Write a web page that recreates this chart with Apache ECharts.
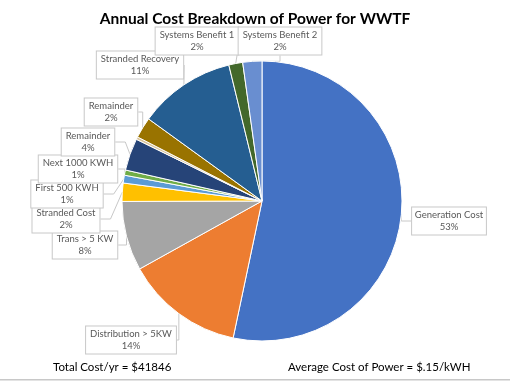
<!DOCTYPE html>
<html>
<head>
<meta charset="utf-8">
<script src="https://cdn.jsdelivr.net/npm/echarts@6/dist/echarts.min.js"></script>
<style>
html,body{margin:0;padding:0;background:#fff;}
#chart{width:510px;height:382px;}
</style>
</head>
<body>
<div id="chart"></div>
<script>
const categories = ['Generation Cost','Distribution > 5KW','Trans > 5 KW','Stranded Cost','First 500 KWH','Next 1000 KWH','Remainder','','Remainder','Stranded Recovery','Systems Benefit 1','Systems Benefit 2'];
const values = [53.2,13.6,8.0,2.1,0.9,0.6,3.7,0.3,2.4,11.2,1.6,2.2];
const colors = ['#4472C4','#ED7D31','#A5A5A5','#FFC000','#5B9BD5','#70AD47','#264478','#D9C39A','#997300','#255E91','#43682B','#698ED0'];
const titleText = 'Annual Cost Breakdown of Power for WWTF';
const footLeft = 'Total Cost/yr = $41846';
const footRight = 'Average Cost of Power = $.15/kWH';
// callout centres (label placement)
const labelPos = [[449,221],[131,340],[85,245],[66,219],[67,194],[78,169],[88,142],null,[111,112],[140,65],[197,41],[280,41]];

const chart = echarts.init(document.getElementById('chart'));
const data = categories.map((n,i)=>({
  name:n, value:values[i], itemStyle:{color:colors[i]},
  label:{show: labelPos[i]!==null}, labelLine:{show: labelPos[i]!==null}
}));
chart.setOption({
  backgroundColor:'#fff',
  animation:false,
  title:{text:titleText,left:'center',top:6,textStyle:{fontFamily:'Lato',fontWeight:'bold',fontSize:15.5,color:'#000'}},
  graphic:[
    {type:'text',left:53,top:361,style:{text:footLeft,font:'11.5px Lato',fill:'#000'}},
    {type:'text',left:288,top:361,style:{text:footRight,font:'11.5px Lato',fill:'#000'}},
    {type:'rect',left:0,top:379,shape:{width:510,height:1.5},style:{fill:'#C8C8C8'}}
  ],
  series:[{
    type:'pie',
    center:[262,201],
    radius:140,
    startAngle:90,
    clockwise:true,
    data:data,
    itemStyle:{borderColor:'#fff',borderWidth:1},
    label:{
      position:'outside',
      formatter:p=>p.name+'\n'+Math.round(p.percent)+'%',
      fontFamily:'Lato',fontSize:9.5,color:'#595959',lineHeight:12,
      backgroundColor:'#fff',borderColor:'#C8C8C8',borderWidth:1,
      padding:[2,4,1,4],align:'center',overflow:'none'
    },
    labelLine:{lineStyle:{color:'#C8C8C8',width:1},length:10,length2:10},
    labelLayout:function(params){
      const p = labelPos[params.dataIndex];
      if(!p) return {};
      return {x:p[0],y:p[1],align:'center',verticalAlign:'middle'};
    }
  }]
});
</script>
</body>
</html>
